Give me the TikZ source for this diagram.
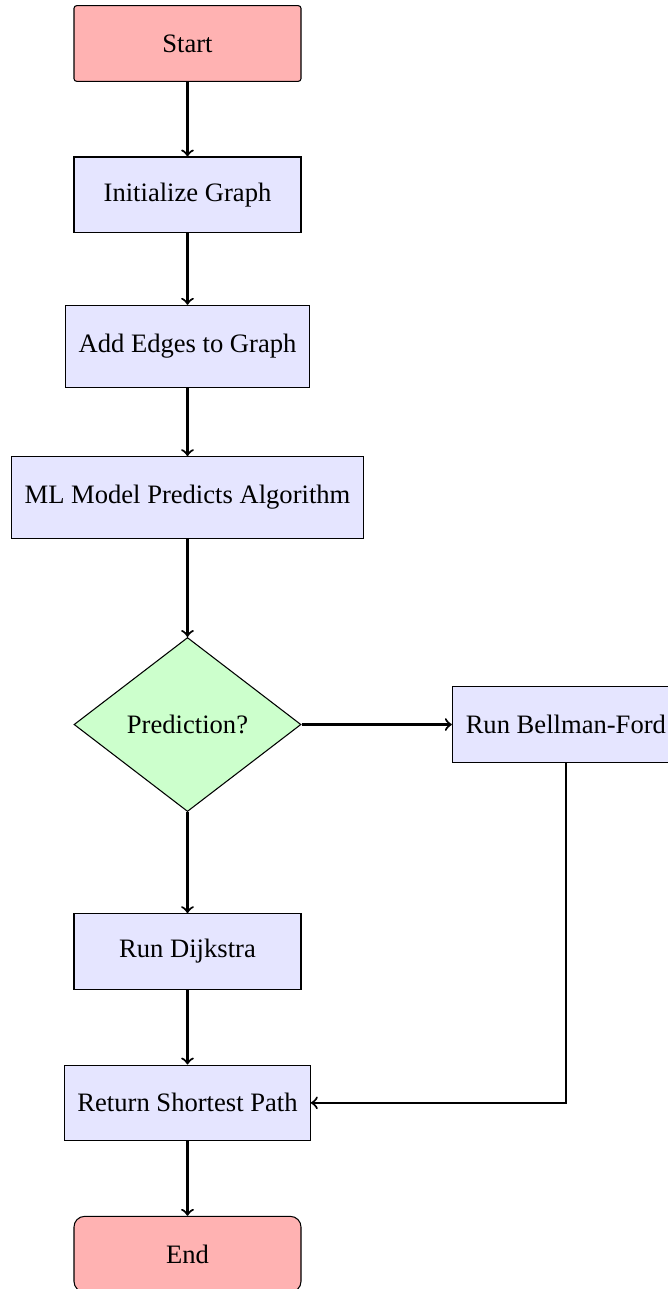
\documentclass[tikz,border=0pt]{standalone}
\usepackage{fontspec}
\setmainfont{Liberation Serif}
\usetikzlibrary{shapes.geometric}

\begin{document}
\begin{tikzpicture}[
  startstop/.style={rectangle, rounded corners=4pt, minimum width=3cm, minimum height=1cm, text centered, draw=black, fill=red!30},
  process/.style={rectangle, inner xsep=4.8pt, minimum width=3cm, minimum height=1cm, text centered, draw=black, fill=blue!10},
  tallproc/.style={process, minimum height=1.08cm},
  decision/.style={diamond, aspect=1.5, minimum width=3cm, minimum height=2.3cm, text centered, draw=black, fill=green!20},
  arrow/.style={thick,->}
]
  \useasboundingbox (-2.478,0.575) rectangle (6.337,-16.46);

  \node (start) [startstop, rounded corners=1pt] at (0,0) {Start};
  \node (init) [process] at (0,-2) {Initialize Graph};
  \node (edges) [tallproc] at (0,-4) {Add Edges to Graph};
  \node (predict) [tallproc] at (0,-6) {ML Model Predicts Algorithm};
  \node (dec) [decision] at (0,-9) {Prediction?};
  \node (bellman) [process] at (5,-9) {Run Bellman-Ford};
  \node (dijkstra) [process] at (0,-12) {Run Dijkstra};
  \node (result) [process] at (0,-14) {Return Shortest Path};
  \node (stop) [startstop] at (0,-16) {End};

  \draw [arrow] (start) -- (init);
  \draw [arrow] (init) -- (edges);
  \draw [arrow] (edges) -- (predict);
  \draw [arrow] (predict) -- (dec);
  \draw [arrow] (dec) -- (dijkstra);
  \draw [arrow] (dec) -- (bellman);
  \draw [arrow] (dijkstra) -- (result);
  \draw [arrow] (bellman) |- (result);
  \draw [arrow] (result) -- (stop);
\end{tikzpicture}
\end{document}
